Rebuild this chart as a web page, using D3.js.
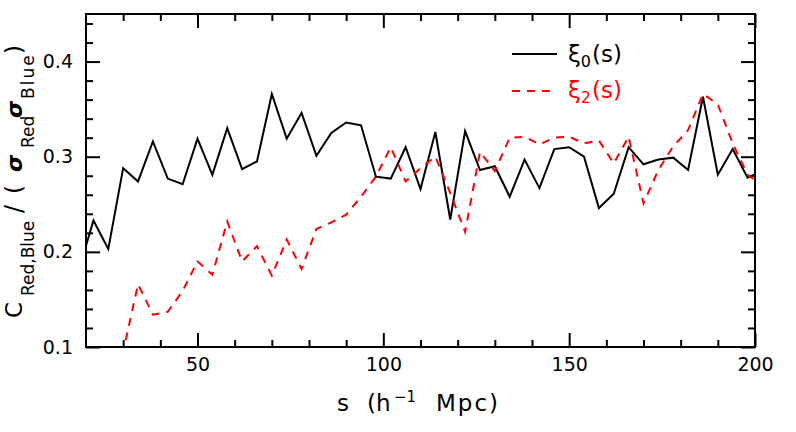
<!DOCTYPE html>
<html>
<head>
<meta charset="utf-8">
<script src="https://cdn.jsdelivr.net/npm/d3@7"></script>
<style>
  body { margin: 0; background: #fff; }
  text { font-family: "DejaVu Sans", sans-serif; }
</style>
</head>
<body>
<script>
// separation s (h^-1 Mpc), one point every 4
const sValues = [18, 22, 26, 30, 34, 38, 42, 46, 50, 54, 58, 62, 66, 70, 74, 78, 82, 86, 90, 94,
                 98, 102, 106, 110, 114, 118, 122, 126, 130, 134, 138, 142, 146, 150, 154, 158, 162, 166, 170, 174,
                 178, 182, 186, 190, 194, 198, 202];

// monopole xi_0(s)
const xi0 = [0.180, 0.233, 0.203, 0.288, 0.274, 0.316, 0.277, 0.271, 0.319, 0.281, 0.330, 0.287, 0.295, 0.366, 0.319, 0.346, 0.301, 0.325, 0.336, 0.333,
             0.279, 0.277, 0.310, 0.266, 0.326, 0.234, 0.327, 0.286, 0.290, 0.258, 0.297, 0.267, 0.308, 0.310, 0.300, 0.246, 0.261, 0.310, 0.292, 0.297,
             0.299, 0.286, 0.363, 0.281, 0.308, 0.278, 0.285];

// quadrupole xi_2(s)
const xi2 = [0.050, 0.060, 0.070, 0.095, 0.166, 0.134, 0.137, 0.159, 0.190, 0.176, 0.232, 0.190, 0.206, 0.175, 0.213, 0.182, 0.224, 0.231, 0.239, 0.258,
             0.279, 0.310, 0.274, 0.288, 0.300, 0.262, 0.221, 0.305, 0.285, 0.320, 0.321, 0.313, 0.320, 0.321, 0.314, 0.317, 0.293, 0.321, 0.251, 0.286,
             0.311, 0.328, 0.366, 0.355, 0.314, 0.281, 0.270];

const xMajorTicks = [50, 100, 150, 200];
const xMinorTicks = [30, 40, 60, 70, 80, 90, 110, 120, 130, 140, 160, 170, 180, 190];
const yMajorTicks = [0.1, 0.2, 0.3, 0.4];
const yMinorTicks = [0.12, 0.14, 0.16, 0.18, 0.22, 0.24, 0.26, 0.28, 0.32, 0.34, 0.36, 0.38, 0.42, 0.44];

const W = 796, H = 432;
const margin = {top: 14, right: 41, bottom: 85, left: 86};
const width = W - margin.left - margin.right,
      height = H - margin.top - margin.bottom;

const svg = d3.select("body").append("svg")
    .attr("width", W)
    .attr("height", H);

const x = d3.scaleLinear().domain([20, 200]).range([0, width]);
const y = d3.scaleLinear().domain([0.1, 0.45]).range([height, 0]);

const g = svg.append("g")
    .attr("transform", "translate(" + margin.left + "," + margin.top + ")");

g.append("clipPath").attr("id", "clip")
  .append("rect").attr("width", width).attr("height", height);

// axes, ticks pointing inward on all four sides
function styleAxis(sel) {
    sel.select(".domain").remove();
    sel.selectAll(".tick line").attr("stroke", "#000").attr("stroke-width", 2);
    sel.selectAll(".tick text").attr("fill", "#000").style("font-size", "19px");
}

g.append("g").attr("transform", "translate(0," + height + ")")
    .call(d3.axisBottom(x).tickValues(xMinorTicks).tickSize(-7).tickFormat(""))
    .call(styleAxis);
g.append("g").attr("transform", "translate(0," + height + ")")
    .call(d3.axisBottom(x).tickValues(xMajorTicks).tickSize(-14).tickPadding(11).tickFormat(d3.format("d")))
    .call(styleAxis);
g.append("g")
    .call(d3.axisTop(x).tickValues(xMinorTicks).tickSize(-7).tickFormat(""))
    .call(styleAxis);
g.append("g")
    .call(d3.axisTop(x).tickValues(xMajorTicks).tickSize(-14).tickFormat(""))
    .call(styleAxis);

g.append("g")
    .call(d3.axisLeft(y).tickValues(yMinorTicks).tickSize(-7).tickFormat(""))
    .call(styleAxis);
g.append("g")
    .call(d3.axisLeft(y).tickValues(yMajorTicks).tickSize(-14).tickPadding(13).tickFormat(d3.format(".1f")))
    .call(styleAxis);
g.append("g").attr("transform", "translate(" + width + ",0)")
    .call(d3.axisRight(y).tickValues(yMinorTicks).tickSize(-7).tickFormat(""))
    .call(styleAxis);
g.append("g").attr("transform", "translate(" + width + ",0)")
    .call(d3.axisRight(y).tickValues(yMajorTicks).tickSize(-14).tickFormat(""))
    .call(styleAxis);

// the curves
const line = d3.line()
    .x(function(d) { return x(d[0]); })
    .y(function(d) { return y(d[1]); });

const plot = g.append("g").attr("clip-path", "url(#clip)");

plot.append("path")
    .datum(d3.zip(sValues, xi0))
    .attr("fill", "none")
    .attr("stroke", "#000")
    .attr("stroke-width", 2)
    .attr("d", line);

plot.append("path")
    .datum(d3.zip(sValues, xi2))
    .attr("fill", "none")
    .attr("stroke", "#ff0000")
    .attr("stroke-width", 2)
    .attr("stroke-dasharray", "8,7")
    .attr("d", line);

// frame
g.append("rect")
    .attr("width", width)
    .attr("height", height)
    .attr("fill", "none")
    .attr("stroke", "#000")
    .attr("stroke-width", 2);

// legend
const legend = [
    {label: "0", color: "#000", dash: null, ly: 54, ty: 62},
    {label: "2", color: "#ff0000", dash: "8,7", ly: 91, ty: 98}
];
legend.forEach(function(l) {
    svg.append("line")
        .attr("x1", 512).attr("x2", 557)
        .attr("y1", l.ly).attr("y2", l.ly)
        .attr("stroke", l.color)
        .attr("stroke-width", 2)
        .attr("stroke-dasharray", l.dash);
    const t = svg.append("text")
        .attr("x", 568).attr("y", l.ty)
        .attr("fill", l.color)
        .style("font-size", "23px");
    t.append("tspan").text("ξ");
    t.append("tspan").attr("dy", 5).style("font-size", "16px").text(l.label);
    t.append("tspan").attr("dy", -5).attr("dx", 1).text("(s)");
});

// x axis title
const xt = svg.append("text")
    .attr("y", 411)
    .style("font-size", "23px");
xt.append("tspan").attr("x", 337).text("s");
xt.append("tspan").attr("x", 367).text("(h");
xt.append("tspan").attr("x", 394).attr("dy", -9).style("font-size", "15px").text("−1");
xt.append("tspan").attr("x", 436).attr("dy", 9).style("letter-spacing", "2px").text("Mpc)");

// y axis title, pieces placed along the rotated baseline
const yt = svg.append("text")
    .attr("transform", "translate(22,318) rotate(-90)")
    .style("font-size", "22px");
yt.append("tspan").attr("x", 0).style("font-size", "23px").text("C");
yt.append("tspan").attr("x", 22).attr("dy", 12).style("font-size", "17px").text("Red,Blue");
yt.append("tspan").attr("x", 105).attr("dy", -12).style("font-size", "24px").text("/");
yt.append("tspan").attr("x", 124).style("font-size", "23px").text("(");
yt.append("tspan").attr("x", 146).attr("font-style", "italic").attr("font-weight", "bold").text("σ");
yt.append("tspan").attr("x", 170).attr("dy", 12).style("font-size", "17px").text("Red");
yt.append("tspan").attr("x", 200).attr("dy", -12).attr("font-style", "italic").attr("font-weight", "bold").text("σ");
yt.append("tspan").attr("x", 219).attr("dy", 12).style("font-size", "17px").style("letter-spacing", "2px").text("Blue");
yt.append("tspan").attr("x", 264).attr("dy", -12).style("font-size", "23px").text(")");
</script>
</body>
</html>
